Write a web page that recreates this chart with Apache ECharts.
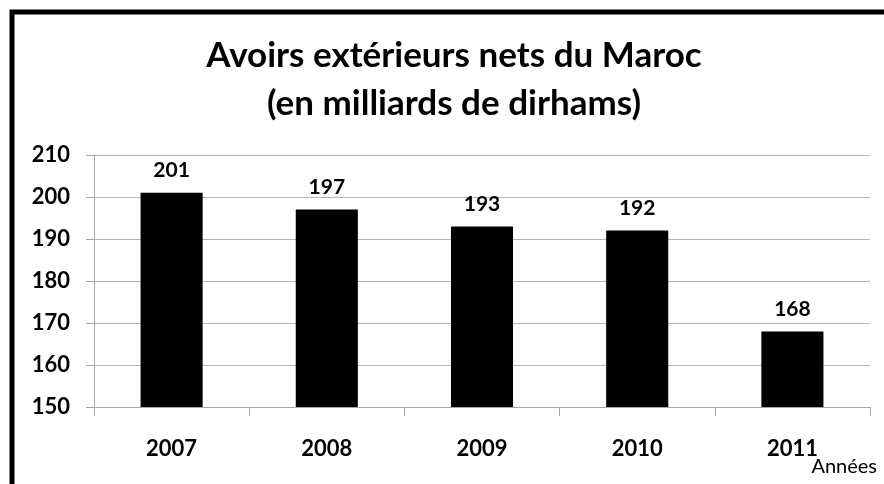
<!DOCTYPE html>
<html>
<head>
<meta charset="utf-8">
<script src="https://cdn.jsdelivr.net/npm/echarts@6/dist/echarts.min.js"></script>
<style>
  html, body { margin: 0; padding: 0; background: #fff; }
  #chart { width: 884px; height: 484px; }
</style>
</head>
<body>
<div id="chart"></div>
<script>
// Avoirs extérieurs nets du Maroc, en milliards de dirhams
const years = ['2007', '2008', '2009', '2010', '2011'];
const avoirs = [201, 197, 193, 192, 168];
const yTicks = { min: 150, max: 210, step: 10 };

const FONT = 'Lato, "Open Sans", sans-serif';

const chart = echarts.init(document.getElementById('chart'));

chart.setOption({
  backgroundColor: '#fff',
  animation: false,
  title: {
    text: 'Avoirs extérieurs nets du Maroc\n(en milliards de dirhams)',
    left: 449,
    textAlign: 'center',
    top: 27,
    textStyle: {
      fontFamily: FONT,
      fontWeight: 'bold',
      fontSize: 35,
      lineHeight: 48,
      color: '#000'
    }
  },
  grid: { left: 94, right: 14, top: 155, bottom: 77 },
  xAxis: {
    type: 'category',
    data: years,
    axisLine: { lineStyle: { color: '#a6a6a6', width: 1 } },
    axisTick: { show: true, length: 9, lineStyle: { color: '#a6a6a6' } },
    axisLabel: {
      margin: 31,
      fontFamily: FONT,
      fontWeight: 'bold',
      fontSize: 22,
      color: '#000'
    }
  },
  yAxis: {
    type: 'value',
    min: yTicks.min,
    max: yTicks.max,
    interval: yTicks.step,
    axisLine: { show: true, lineStyle: { color: '#a6a6a6', width: 1 } },
    axisTick: { show: true, length: 8, lineStyle: { color: '#a6a6a6' } },
    axisLabel: {
      margin: 24,
      fontFamily: FONT,
      fontWeight: 'bold',
      fontSize: 22,
      color: '#000'
    },
    splitLine: { lineStyle: { color: '#b3b3b3', width: 1 } }
  },
  series: [{
    type: 'bar',
    data: avoirs,
    barWidth: '40%',
    itemStyle: { color: '#000' },
    label: {
      show: true,
      position: 'top',
      distance: 12,
      fontFamily: FONT,
      fontWeight: 'bold',
      fontSize: 21,
      color: '#000'
    }
  }],
  graphic: [
    {
      // cadre noir (seuls les bords haut et gauche sont visibles)
      type: 'rect',
      shape: { x: 12, y: 12, width: 1000, height: 1000 },
      style: { fill: null, stroke: '#000', lineWidth: 5 },
      silent: true
    },
    {
      type: 'text',
      right: 7,
      top: 457,
      style: {
        text: 'Années',
        fontFamily: FONT,
        fontSize: 20,
        fill: '#000'
      }
    }
  ]
});
</script>
</body>
</html>
